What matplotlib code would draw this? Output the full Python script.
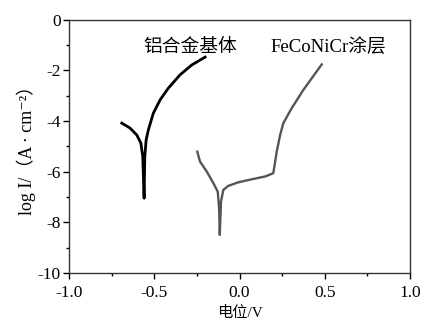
import matplotlib
matplotlib.use("Agg")
import matplotlib.pyplot as plt
from matplotlib.ticker import MultipleLocator

plt.rcParams['font.family'] = ['Liberation Serif', 'Noto Sans CJK SC', 'DejaVu Sans']
plt.rcParams['axes.unicode_minus'] = False

# Aluminium alloy substrate
al_E = [-0.691, -0.642, -0.603, -0.579, -0.568, -0.560, -0.556, -0.548, -0.535,
        -0.506, -0.466, -0.418, -0.349, -0.280, -0.202]
al_logI = [-4.08, -4.28, -4.55, -4.87, -5.40, -7.05, -5.40, -4.74, -4.35,
           -3.69, -3.16, -2.70, -2.17, -1.78, -1.47]

# FeCoNiCr coating
fe_E = [-0.248, -0.232, -0.192, -0.154, -0.128, -0.120, -0.116, -0.109, -0.095,
        -0.066, -0.007, 0.072, 0.150, 0.198, 0.218, 0.238, 0.257, 0.306, 0.374, 0.482]
fe_logI = [-5.21, -5.60, -6.00, -6.45, -6.79, -7.43, -8.50, -7.18, -6.72,
           -6.56, -6.42, -6.30, -6.19, -6.06, -5.21, -4.55, -4.08, -3.49, -2.77, -1.76]

xticks = [-1.0, -0.5, 0.0, 0.5, 1.0]
yticks = [0, -2, -4, -6, -8, -10]

fig = plt.figure(figsize=(4.24, 3.26), dpi=100)
ax = fig.add_axes([0.163, 0.163, 0.804, 0.776])

ax.plot(al_E, al_logI, color='black', lw=2.0, solid_joinstyle='round')
ax.plot(fe_E, fe_logI, color='#555555', lw=1.7, solid_joinstyle='round')

ax.set_xlim(-1.0, 1.0)
ax.set_ylim(-10, 0)
ax.set_xticks(xticks)
ax.set_xticklabels([f"{v:.1f}" for v in xticks])
ax.set_yticks(yticks)
ax.set_yticklabels([str(v) for v in yticks])
ax.xaxis.set_minor_locator(MultipleLocator(0.25))
ax.yaxis.set_minor_locator(MultipleLocator(1))
ax.tick_params(which='major', direction='out', length=4, width=1, labelsize=12.5, pad=2)
ax.tick_params(axis='x', which='major', pad=5)
ax.tick_params(which='minor', direction='out', length=2.5, width=1)
ax.tick_params(top=False, right=False, which='both')
for s in ax.spines.values():
    s.set_linewidth(1.0)
    s.set_color('#333333')

ax.text(-0.566, -1.07, '铝合金基体', fontsize=13.5, ha='left', va='center')
ax.text(0.179, -1.07, 'FeCoNiCr涂层', fontsize=13.5, ha='left', va='center')

ax.set_xlabel('电位/V', fontsize=11, labelpad=3)
ax.set_ylabel('log I/（A · cm⁻²）', fontsize=13, labelpad=1)

fig.savefig('out.png', dpi=100)
